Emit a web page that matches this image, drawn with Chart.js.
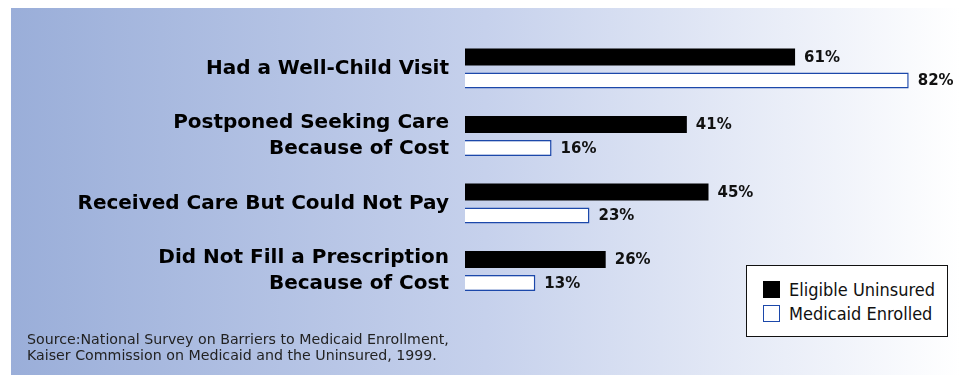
<!DOCTYPE html>
<html>
<head>
<meta charset="utf-8">
<script src="https://cdn.jsdelivr.net/npm/chart.js@4.4.1/dist/chart.umd.min.js"></script>
<style>
  html, body { margin: 0; padding: 0; background: #fff; }
  #wrap { position: relative; width: 960px; height: 375px; overflow: hidden; }
  #panel {
    position: absolute; left: 11px; top: 8px; width: 949px; height: 367px;
    background: linear-gradient(to right, #9aaed9 0%, #c6d1ec 50%, #ffffff 100%);
  }
  #chart { position: absolute; left: 0; top: 0; }
  #legend {
    position: absolute; left: 746px; top: 265px; width: 202px; height: 72px;
    background: #fff; border: 1.5px solid #111; box-sizing: border-box;
    font-family: "DejaVu Sans Condensed", "DejaVu Sans", sans-serif; font-size: 18px; color: #111;
    padding: 11px 0 0 16px;
  }
  #legend .item { display: flex; align-items: center; height: 24px; }
  #legend .sw { width: 17px; height: 17px; box-sizing: border-box; margin-right: 9px; }
  #source {
    position: absolute; left: 27px; top: 331px;
    font-family: "DejaVu Sans", sans-serif; font-size: 14.2px;
    line-height: 16px; color: #222;
  }
</style>
</head>
<body>
<div id="wrap">
  <div id="panel"></div>
  <canvas id="chart" width="960" height="375"></canvas>
  <div id="legend"></div>
  <div id="source">Source:National Survey on Barriers to Medicaid Enrollment,<br>Kaiser Commission on Medicaid and the Uninsured, 1999.</div>
</div>
<script>
  // categories (two-line labels where the original wraps)
  var categories = [
    ["Had a Well-Child Visit"],
    ["Postponed Seeking Care", "Because of Cost"],
    ["Received Care But Could Not Pay"],
    ["Did Not Fill a Prescription", "Because of Cost"]
  ];
  var seriesNames = ["Eligible Uninsured", "Medicaid Enrolled"];
  var eligibleUninsured = [61, 41, 45, 26];
  var medicaidEnrolled = [82, 16, 23, 13];

  var FONT = '"DejaVu Sans", sans-serif';
  var BLUE = "#1c48aa";

  // percent labels just past the end of each bar
  var valueLabels = {
    id: "valueLabels",
    afterDatasetsDraw: function (chart) {
      var ctx = chart.ctx;
      ctx.save();
      ctx.font = "bold 15px " + FONT;
      ctx.fillStyle = "#111";
      ctx.textAlign = "left";
      ctx.textBaseline = "middle";
      chart.data.datasets.forEach(function (ds, i) {
        chart.getDatasetMeta(i).data.forEach(function (bar, j) {
          ctx.fillText(ds.data[j] + "%", bar.x + 9, bar.y + 1);
        });
      });
      ctx.restore();
    }
  };

  new Chart(document.getElementById("chart"), {
    type: "bar",
    data: {
      labels: categories,
      datasets: [
        { label: seriesNames[0], data: eligibleUninsured, backgroundColor: "#000", borderWidth: 0,
          categoryPercentage: 0.696, barPercentage: 0.72 },
        { label: seriesNames[1], data: medicaidEnrolled, backgroundColor: "#fff", borderColor: BLUE,
          borderWidth: 1.5, categoryPercentage: 0.696, barPercentage: 0.68 }
      ]
    },
    options: {
      indexAxis: "y",
      responsive: false,
      animation: false,
      layout: { padding: { left: 0, right: 8, top: 35, bottom: 70 } },
      plugins: { legend: { display: false }, tooltip: { enabled: false } },
      scales: {
        x: { display: false, min: 0, max: 90 },
        y: {
          grid: { display: false, drawTicks: false },
          border: { display: false },
          ticks: { color: "#000", padding: 16, font: { family: FONT, size: 20, weight: "bold", lineHeight: 1.3 } },
          afterFit: function (scale) {
            scale.width = 465;
            scale.paddingTop = 0;
            scale.paddingBottom = 0;
          }
        }
      }
    },
    plugins: [valueLabels]
  });

  // legend box
  var legend = document.getElementById("legend");
  seriesNames.forEach(function (name, i) {
    var item = document.createElement("div");
    item.className = "item";
    var sw = document.createElement("span");
    sw.className = "sw";
    sw.style.background = i === 0 ? "#000" : "#fff";
    sw.style.border = i === 0 ? "1px solid #000" : "1.5px solid " + BLUE;
    var tx = document.createElement("span");
    tx.textContent = name;
    item.appendChild(sw);
    item.appendChild(tx);
    legend.appendChild(item);
  });
</script>
</body>
</html>
